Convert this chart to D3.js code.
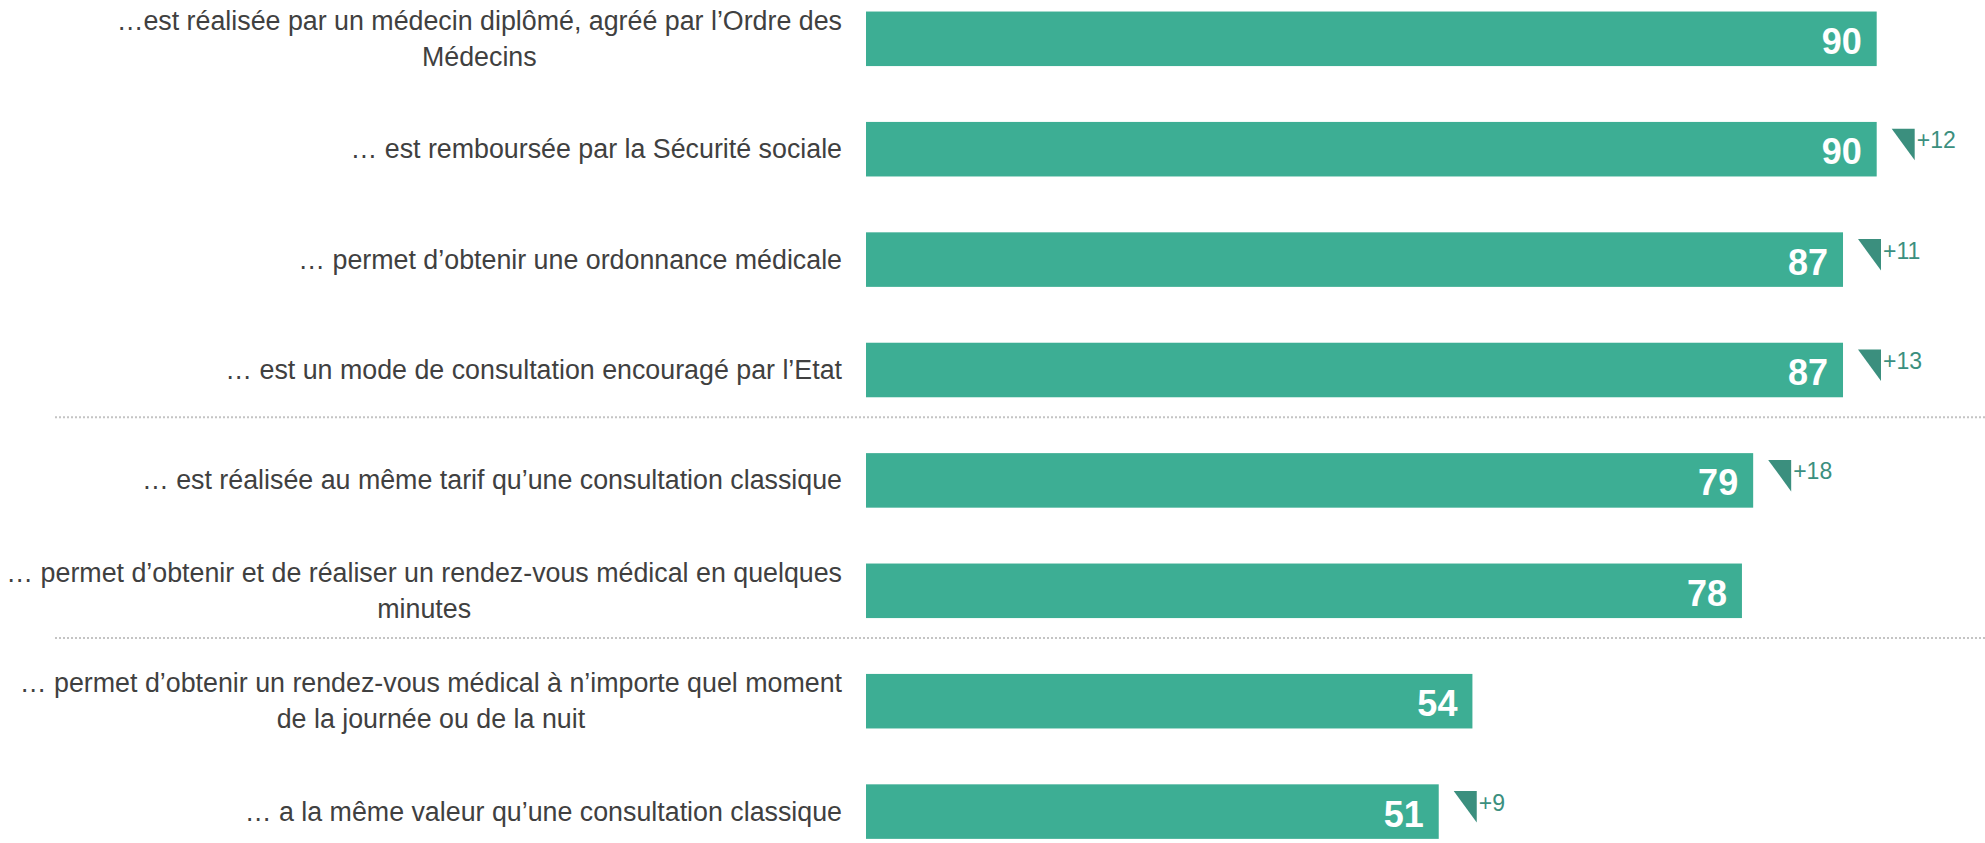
<!DOCTYPE html>
<html>
<head>
<meta charset="utf-8">
<script src="https://cdn.jsdelivr.net/npm/d3@7"></script>
<style>
  html, body { margin: 0; padding: 0; background: #ffffff; }
  svg { display: block; font-family: "Liberation Sans", Arial, sans-serif; }
</style>
</head>
<body>
<div id="chart"></div>
<script>
// Chart data
const categories = [
    '…est réalisée par un médecin diplômé, agréé par l’Ordre des\nMédecins',
    '… est remboursée par la Sécurité sociale',
    '… permet d’obtenir une ordonnance médicale',
    '… est un mode de consultation encouragé par l’Etat',
    '… est réalisée au même tarif qu’une consultation classique',
    '… permet d’obtenir et de réaliser un rendez-vous médical en quelques\nminutes',
    '… permet d’obtenir un rendez-vous médical à n’importe quel moment\nde la journée ou de la nuit',
    '… a la même valeur qu’une consultation classique'
];
const values = [90, 90, 87, 87, 79, 78, 54, 51];
const deltas = [null, 12, 11, 13, 18, null, null, 9];
// dotted separators are drawn before these category indexes
const separatorsBefore = [4, 6];

const width = 1985;
const height = 843;

const barColor = '#3dae94';
const deltaColor = '#3b8f7e';
const labelColor = '#404040';

const svg = d3.select('#chart')
    .append('svg')
    .attr('width', width)
    .attr('height', height);

const x = d3.scaleLinear()
    .domain([0, 100])
    .range([866, 1989]);

const y = d3.scaleBand()
    .domain(d3.range(categories.length))
    .range([-16.4, 866.8])
    .paddingInner(0.506)
    .paddingOuter(0.253);

const bw = y.bandwidth();
const mid = i => y(i) + bw / 2;

// Separators
svg.append('g')
    .selectAll('line')
    .data(separatorsBefore)
    .enter().append('line')
    .attr('x1', 55)
    .attr('x2', width)
    .attr('y1', i => (y(i - 1) + bw + y(i)) / 2 - 8)
    .attr('y2', i => (y(i - 1) + bw + y(i)) / 2 - 8)
    .attr('stroke', '#c4c4c4')
    .attr('stroke-width', 2)
    .attr('stroke-dasharray', '2,2');

// Bars
svg.append('g')
    .selectAll('rect')
    .data(values)
    .enter().append('rect')
    .attr('x', x(0))
    .attr('y', (d, i) => y(i))
    .attr('width', d => x(d) - x(0))
    .attr('height', bw)
    .attr('fill', barColor);

// Values inside bars
svg.append('g')
    .selectAll('text')
    .data(values)
    .enter().append('text')
    .attr('x', d => x(d) - 15)
    .attr('y', (d, i) => mid(i) + 15)
    .attr('text-anchor', 'end')
    .attr('fill', '#ffffff')
    .style('font-size', '36px')
    .style('font-weight', 'bold')
    .text(d => d);

// Category labels
const labelX = 842;
const labels = svg.append('g')
    .selectAll('g')
    .data(categories)
    .enter().append('g');

labels.each(function(d, i) {
    const lines = d.split('\n');
    const g = d3.select(this);
    const lineH = 35.5;
    const first = g.append('text')
        .attr('x', labelX)
        .attr('y', mid(i) + 9 - (lines.length - 1) * lineH / 2)
        .attr('text-anchor', 'end')
        .attr('fill', labelColor)
        .style('font-size', '26.8px')
        .text(lines[0]);
    if (lines.length > 1) {
        const w = first.node().getComputedTextLength();
        g.append('text')
            .attr('x', labelX - w / 2)
            .attr('y', mid(i) + 9 + lineH / 2)
            .attr('text-anchor', 'middle')
            .attr('fill', labelColor)
            .style('font-size', '26.8px')
            .text(lines[1]);
    }
});

// Evolution markers
const deltaData = values
    .map((v, i) => ({ v: v, d: deltas[i], i: i }))
    .filter(e => e.d !== null);

const marks = svg.append('g')
    .selectAll('g')
    .data(deltaData)
    .enter().append('g')
    .attr('transform', e => `translate(${x(e.v) + 15},${mid(e.i)})`);

marks.append('path')
    .attr('d', 'M0,-20.5L23,-20.5L23,11Z')
    .attr('fill', deltaColor);

marks.append('text')
    .attr('x', 25)
    .attr('y', -1)
    .attr('fill', deltaColor)
    .style('font-size', '23px')
    .text(e => '+' + e.d);
</script>
</body>
</html>
